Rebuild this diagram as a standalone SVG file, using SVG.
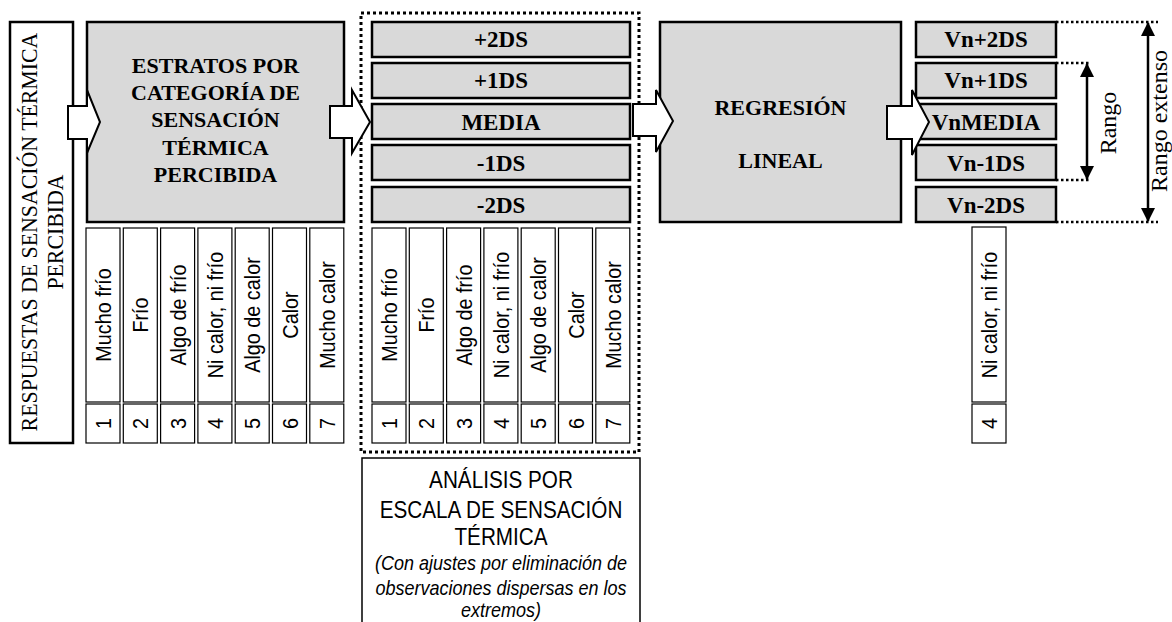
<svg xmlns="http://www.w3.org/2000/svg" width="1172" height="622" viewBox="0 0 1172 622">
<style>
.bg{fill:#ffffff}
.gray{fill:#d9d9d9;stroke:#000;stroke-width:2.5}
.wbox{fill:#ffffff;stroke:#000;stroke-width:2.5}
.cell{fill:#ffffff;stroke:#000;stroke-width:1.2}
.arrow{fill:#ffffff;stroke:#000;stroke-width:2;stroke-linejoin:miter}
.dotbox{fill:none;stroke:#000;stroke-width:3;stroke-dasharray:3 3}
.dotline{fill:none;stroke:#000;stroke-width:2.5;stroke-dasharray:2.5 2.5}
.dim{stroke:#000;stroke-width:2.5;fill:none}
.hb{font-family:"Liberation Serif","Times New Roman",serif;font-weight:bold;font-size:22px;text-anchor:middle;fill:#000}
.hs{font-family:"Liberation Serif","Times New Roman",serif;font-weight:bold;font-size:23px;text-anchor:middle;fill:#000}
.vs{font-family:"Liberation Serif","Times New Roman",serif;font-size:24px;text-anchor:middle;fill:#000}
.vr{font-family:"Liberation Serif","Times New Roman",serif;font-size:24px;text-anchor:middle;fill:#000}
.cl{font-family:"Liberation Sans",Arial,sans-serif;font-size:22px;text-anchor:middle;fill:#000}
.bt{font-family:"Liberation Sans",Arial,sans-serif;font-size:23px;text-anchor:middle;fill:#000}
.bi{font-family:"Liberation Sans",Arial,sans-serif;font-size:20px;font-style:italic;text-anchor:middle;fill:#000}
</style>
<defs>
<marker id="ah" viewBox="0 0 14 14" refX="13" refY="7" markerWidth="14" markerHeight="14" markerUnits="userSpaceOnUse" orient="auto-start-reverse">
<path d="M0,0 L14,7 L0,14 Z" fill="#000"/>
</marker>
</defs>
<rect class="bg" x="0" y="0" width="1172" height="622"/>

<g id="respuestas">
<rect class="wbox" x="10" y="22" width="63" height="421"/>
<text class="vs" transform="translate(37,232) rotate(-90) scale(0.91,1)">RESPUESTAS DE SENSACIÓN TÉRMICA</text>
<text class="vs" transform="translate(63,232) rotate(-90) scale(0.91,1)">PERCIBIDA</text>
</g>

<g id="estratos">
<rect class="gray" x="87" y="22" width="257" height="200"/>
<text class="hb" x="215.5" y="73">ESTRATOS POR</text>
<text class="hb" x="215.5" y="100">CATEGORÍA DE</text>
<text class="hb" x="215.5" y="127">SENSACIÓN</text>
<text class="hb" x="215.5" y="155">TÉRMICA</text>
<text class="hb" x="215.5" y="182">PERCIBIDA</text>
</g>

<g id="escala-estratos">
<rect class="cell" x="86" y="228" width="34" height="174"/>
<rect class="cell" x="123.3" y="228" width="34" height="174"/>
<rect class="cell" x="160.6" y="228" width="34" height="174"/>
<rect class="cell" x="197.9" y="228" width="34" height="174"/>
<rect class="cell" x="235.2" y="228" width="34" height="174"/>
<rect class="cell" x="272.5" y="228" width="34" height="174"/>
<rect class="cell" x="309.8" y="228" width="34" height="174"/>
<text class="cl" transform="translate(111,315) rotate(-90) scale(0.9,1)">Mucho frío</text>
<text class="cl" transform="translate(148.3,315) rotate(-90) scale(0.9,1)">Frío</text>
<text class="cl" transform="translate(185.6,315) rotate(-90) scale(0.9,1)">Algo de frío</text>
<text class="cl" transform="translate(222.9,315) rotate(-90) scale(0.9,1)">Ni calor, ni frío</text>
<text class="cl" transform="translate(260.2,315) rotate(-90) scale(0.9,1)">Algo de calor</text>
<text class="cl" transform="translate(297.5,315) rotate(-90) scale(0.9,1)">Calor</text>
<text class="cl" transform="translate(334.8,315) rotate(-90) scale(0.9,1)">Mucho calor</text>
<rect class="cell" x="86" y="404" width="34" height="39"/>
<rect class="cell" x="123.3" y="404" width="34" height="39"/>
<rect class="cell" x="160.6" y="404" width="34" height="39"/>
<rect class="cell" x="197.9" y="404" width="34" height="39"/>
<rect class="cell" x="235.2" y="404" width="34" height="39"/>
<rect class="cell" x="272.5" y="404" width="34" height="39"/>
<rect class="cell" x="309.8" y="404" width="34" height="39"/>
<text class="cl" transform="translate(111,423.5) rotate(-90) scale(0.9,1)">1</text>
<text class="cl" transform="translate(148.3,423.5) rotate(-90) scale(0.9,1)">2</text>
<text class="cl" transform="translate(185.6,423.5) rotate(-90) scale(0.9,1)">3</text>
<text class="cl" transform="translate(222.9,423.5) rotate(-90) scale(0.9,1)">4</text>
<text class="cl" transform="translate(260.2,423.5) rotate(-90) scale(0.9,1)">5</text>
<text class="cl" transform="translate(297.5,423.5) rotate(-90) scale(0.9,1)">6</text>
<text class="cl" transform="translate(334.8,423.5) rotate(-90) scale(0.9,1)">7</text>
</g>

<g id="analisis">
<rect class="dotbox" x="361" y="13" width="278" height="439"/>
<rect class="gray" x="372" y="22" width="258" height="35"/>
<rect class="gray" x="372" y="63" width="258" height="35"/>
<rect class="gray" x="372" y="104" width="258" height="35"/>
<rect class="gray" x="372" y="145" width="258" height="35"/>
<rect class="gray" x="372" y="187" width="258" height="35"/>
<text class="hs" x="501" y="47">+2DS</text>
<text class="hs" x="501" y="88">+1DS</text>
<text class="hs" x="501" y="129.5">MEDIA</text>
<text class="hs" x="501" y="170.5">-1DS</text>
<text class="hs" x="501" y="212.5">-2DS</text>
<rect class="cell" x="372" y="228" width="34" height="174"/>
<rect class="cell" x="409.3" y="228" width="34" height="174"/>
<rect class="cell" x="446.6" y="228" width="34" height="174"/>
<rect class="cell" x="483.9" y="228" width="34" height="174"/>
<rect class="cell" x="521.2" y="228" width="34" height="174"/>
<rect class="cell" x="558.5" y="228" width="34" height="174"/>
<rect class="cell" x="595.8" y="228" width="34" height="174"/>
<text class="cl" transform="translate(397,315) rotate(-90) scale(0.9,1)">Mucho frío</text>
<text class="cl" transform="translate(434.3,315) rotate(-90) scale(0.9,1)">Frío</text>
<text class="cl" transform="translate(471.6,315) rotate(-90) scale(0.9,1)">Algo de frío</text>
<text class="cl" transform="translate(508.9,315) rotate(-90) scale(0.9,1)">Ni calor, ni frío</text>
<text class="cl" transform="translate(546.2,315) rotate(-90) scale(0.9,1)">Algo de calor</text>
<text class="cl" transform="translate(583.5,315) rotate(-90) scale(0.9,1)">Calor</text>
<text class="cl" transform="translate(620.8,315) rotate(-90) scale(0.9,1)">Mucho calor</text>
<rect class="cell" x="372" y="404" width="34" height="39"/>
<rect class="cell" x="409.3" y="404" width="34" height="39"/>
<rect class="cell" x="446.6" y="404" width="34" height="39"/>
<rect class="cell" x="483.9" y="404" width="34" height="39"/>
<rect class="cell" x="521.2" y="404" width="34" height="39"/>
<rect class="cell" x="558.5" y="404" width="34" height="39"/>
<rect class="cell" x="595.8" y="404" width="34" height="39"/>
<text class="cl" transform="translate(397,423.5) rotate(-90) scale(0.9,1)">1</text>
<text class="cl" transform="translate(434.3,423.5) rotate(-90) scale(0.9,1)">2</text>
<text class="cl" transform="translate(471.6,423.5) rotate(-90) scale(0.9,1)">3</text>
<text class="cl" transform="translate(508.9,423.5) rotate(-90) scale(0.9,1)">4</text>
<text class="cl" transform="translate(546.2,423.5) rotate(-90) scale(0.9,1)">5</text>
<text class="cl" transform="translate(583.5,423.5) rotate(-90) scale(0.9,1)">6</text>
<text class="cl" transform="translate(620.8,423.5) rotate(-90) scale(0.9,1)">7</text>
</g>

<g id="analisis-label">
<rect x="362" y="458" width="278" height="200" fill="#ffffff" stroke="#000" stroke-width="1.5"/>
<text class="bt" transform="translate(501,488) scale(0.9,1)">ANÁLISIS POR</text>
<text class="bt" transform="translate(501,518) scale(0.9,1)">ESCALA DE SENSACIÓN</text>
<text class="bt" transform="translate(501,545) scale(0.9,1)">TÉRMICA</text>
<text class="bi" transform="translate(501,570) scale(0.9,1)">(Con ajustes por eliminación de</text>
<text class="bi" transform="translate(501,595) scale(0.9,1)">observaciones dispersas en los</text>
<text class="bi" transform="translate(501,617) scale(0.9,1)">extremos)</text>
</g>

<g id="regresion">
<rect class="gray" x="660" y="22" width="241" height="200"/>
<text class="hb" x="780.5" y="115">REGRESIÓN</text>
<text class="hb" x="780.5" y="168">LINEAL</text>
</g>

<g id="resultados">
<rect class="gray" x="916" y="22" width="140" height="35"/>
<rect class="gray" x="916" y="63" width="140" height="35"/>
<rect class="gray" x="916" y="104" width="140" height="35"/>
<rect class="gray" x="916" y="145" width="140" height="35"/>
<rect class="gray" x="916" y="187" width="140" height="35"/>
<text class="hs" x="986" y="47">Vn+2DS</text>
<text class="hs" x="986" y="88">Vn+1DS</text>
<text class="hs" x="986" y="129.5">VnMEDIA</text>
<text class="hs" x="986" y="170.5">Vn-1DS</text>
<text class="hs" x="986" y="212.5">Vn-2DS</text>
<rect class="cell" x="972" y="227" width="34" height="175"/>
<text class="cl" transform="translate(997,315) rotate(-90) scale(0.9,1)">Ni calor, ni frío</text>
<rect class="cell" x="972" y="404" width="34" height="39"/>
<text class="cl" transform="translate(997,423.5) rotate(-90) scale(0.9,1)">4</text>
</g>

<g id="rangos">
<line class="dotline" x1="1056" y1="22" x2="1158" y2="22"/>
<line class="dotline" x1="1056" y1="222" x2="1158" y2="222"/>
<line class="dotline" x1="1056" y1="63" x2="1089" y2="63"/>
<line class="dotline" x1="1056" y1="180" x2="1089" y2="180"/>
<line class="dim" x1="1087" y1="64" x2="1087" y2="179" marker-start="url(#ah)" marker-end="url(#ah)"/>
<line class="dim" x1="1148" y1="23" x2="1148" y2="221" marker-start="url(#ah)" marker-end="url(#ah)"/>
<text class="vr" transform="translate(1116,123) rotate(-90)">Rango</text>
<text class="vr" transform="translate(1167,121) rotate(-90)">Rango extenso</text>
</g>

<g id="connectors">
<polygon class="arrow" points="68,106 87,106 87,90 100,122 87,153 87,139 68,139"/>
<polygon class="arrow" points="330,106 352,106 352,90 370,122 352,153 352,138 330,138"/>
<polygon class="arrow" points="633,104 656,104 656,90 673,121 656,152 656,136 633,136"/>
<polygon class="arrow" points="887,106 912,106 912,90 929,122 912,155 912,139 887,139"/>
</g>
</svg>
